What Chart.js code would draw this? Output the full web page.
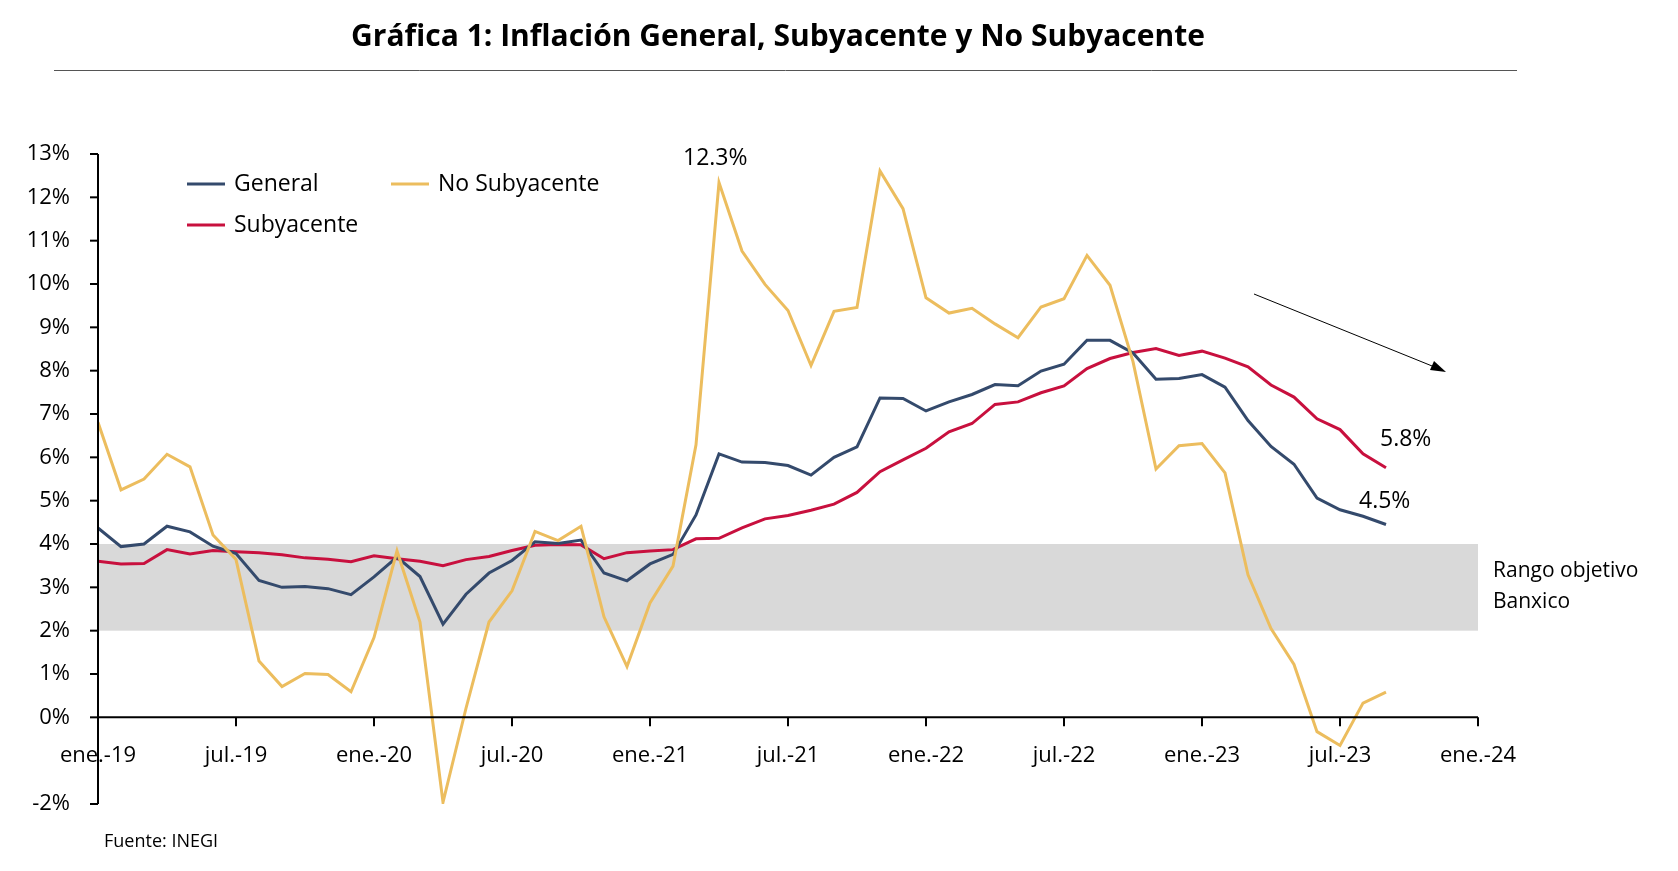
<!DOCTYPE html>
<html><head><meta charset="utf-8">
<script src="https://cdn.jsdelivr.net/npm/chart.js@4"></script>
<style>html,body{margin:0;padding:0;background:#fff}#w{width:1678px;height:871px;position:relative}</style>
</head><body><div id="w"><canvas id="c"></canvas></div>
<script>
const xTickLabels = ['ene.-19','jul.-19','ene.-20','jul.-20','ene.-21','jul.-21','ene.-22','jul.-22','ene.-23','jul.-23','ene.-24'];
const yTickValues = [13,12,11,10,9,8,7,6,5,4,3,2,1,0,-2];
const general = [4.37,3.94,4.00,4.41,4.28,3.95,3.78,3.16,3.00,3.02,2.97,2.83,
 3.24,3.70,3.25,2.15,2.84,3.33,3.62,4.05,4.01,4.09,3.33,3.15,
 3.54,3.76,4.67,6.08,5.89,5.88,5.81,5.59,6.00,6.24,7.37,7.36,
 7.07,7.28,7.45,7.68,7.65,7.99,8.15,8.70,8.70,8.41,7.80,7.82,
 7.91,7.62,6.85,6.25,5.84,5.06,4.79,4.64,4.45];
const subyacente = [3.60,3.54,3.55,3.87,3.77,3.85,3.82,3.80,3.75,3.68,3.65,3.59,
 3.73,3.66,3.60,3.50,3.64,3.71,3.85,3.97,3.99,3.98,3.66,3.80,
 3.84,3.87,4.12,4.13,4.37,4.58,4.66,4.78,4.92,5.19,5.67,5.94,
 6.21,6.59,6.78,7.22,7.28,7.49,7.65,8.05,8.28,8.42,8.51,8.35,
 8.45,8.29,8.09,7.67,7.39,6.89,6.64,6.08,5.76];
const noSubyacente = [6.81,5.25,5.50,6.07,5.78,4.21,3.64,1.30,0.71,1.01,0.99,0.59,
 1.84,3.84,2.20,-1.96,0.21,2.20,2.92,4.29,4.08,4.41,2.32,1.17,
 2.64,3.49,6.29,12.34,10.76,9.99,9.39,8.12,9.37,9.46,12.61,11.74,
 9.68,9.33,9.44,9.08,8.76,9.47,9.66,10.66,9.97,8.21,5.73,6.27,
 6.32,5.64,3.29,2.05,1.22,-0.33,-0.65,0.33,0.58];
const bandLow = 2, bandHigh = 4;
const pts = a => a.map((v,i)=>({x:i,y:v}));
const FONT = '"Open Sans", sans-serif';
const C_GEN='#344a6c', C_SUB='#c8103e', C_NS='#ecbd5e';

const deco = {
 id:'deco',
 beforeDatasetsDraw(ch){
  const {ctx,scales:{x,y}}=ch;
  ctx.save();
  ctx.fillStyle='#d9d9d9';
  const yt=y.getPixelForValue(bandHigh), yb=y.getPixelForValue(bandLow);
  ctx.fillRect(x.getPixelForValue(0),yt,x.getPixelForValue(60)-x.getPixelForValue(0),yb-yt);
  ctx.restore();
 },
 afterDatasetsDraw(ch){
  const {ctx,scales:{x,y}}=ch;
  ctx.save();
  ctx.strokeStyle='#000'; ctx.lineWidth=2;
  const x0=x.getPixelForValue(0), x1=x.getPixelForValue(60), y0=y.getPixelForValue(0);
  ctx.beginPath(); ctx.moveTo(x0,y.getPixelForValue(13)); ctx.lineTo(x0,y.getPixelForValue(-2)); ctx.stroke();
  ctx.beginPath(); ctx.moveTo(x0,y0); ctx.lineTo(x1,y0); ctx.stroke();
  ctx.fillStyle='#000'; ctx.font='22px '+FONT;
  ctx.textAlign='right'; ctx.textBaseline='middle';
  yTickValues.forEach(v=>{
    const py=y.getPixelForValue(v);
    ctx.fillText(v+'%',70,py);
    ctx.beginPath(); ctx.moveTo(x0-8,py); ctx.lineTo(x0,py); ctx.stroke();
  });
  ctx.textAlign='center'; ctx.textBaseline='middle';
  xTickLabels.forEach((l,i)=>{
    const px=x.getPixelForValue(i*6);
    ctx.beginPath(); ctx.moveTo(px,y0); ctx.lineTo(px,y0+9); ctx.stroke();
    ctx.fillText(l,px,y0+38);
  });
  // legend
  ctx.font='23px '+FONT; ctx.textAlign='left';
  const leg=[[C_GEN,'General',187,184],[C_NS,'No Subyacente',391,184],[C_SUB,'Subyacente',187,225]];
  leg.forEach(([c,t,lx,ly])=>{
    ctx.strokeStyle=c; ctx.lineWidth=3;
    ctx.beginPath(); ctx.moveTo(lx,ly); ctx.lineTo(lx+38,ly); ctx.stroke();
    ctx.fillText(t,lx+47,ly);
  });
  // annotations
  ctx.fillText('12.3%',683,158);
  ctx.fillText('5.8%',1380,439);
  ctx.fillText('4.5%',1359,501);
  ctx.font='21px '+FONT;
  ctx.fillText('Rango objetivo',1493,571);
  ctx.fillText('Banxico',1493,602);
  ctx.font='18px '+FONT;
  ctx.fillText('Fuente: INEGI',104,842);
  // arrow
  ctx.strokeStyle='#000'; ctx.lineWidth=1;
  ctx.beginPath(); ctx.moveTo(1254,294); ctx.lineTo(1442,370); ctx.stroke();
  ctx.fillStyle='#000';
  ctx.beginPath(); ctx.moveTo(1446,372); ctx.lineTo(1430,370); ctx.lineTo(1434,361); ctx.closePath(); ctx.fill();
  // title
  ctx.font='bold 30px '+FONT; ctx.textAlign='center';
  ctx.fillText('Gráfica 1: Inflación General, Subyacente y No Subyacente',778,37);
  ctx.strokeStyle='#555'; ctx.lineWidth=1;
  ctx.beginPath(); ctx.moveTo(54,70.5); ctx.lineTo(1517,70.5); ctx.stroke();
  ctx.restore();
 }
};

new Chart(document.getElementById('c'),{
 type:'line',
 data:{datasets:[
  {label:'No Subyacente',data:pts(noSubyacente),borderColor:C_NS,borderWidth:3,pointRadius:0,tension:0},
  {label:'General',data:pts(general),borderColor:C_GEN,borderWidth:3,pointRadius:0,tension:0},
  {label:'Subyacente',data:pts(subyacente),borderColor:C_SUB,borderWidth:3,pointRadius:0,tension:0}
 ]},
 options:{
  responsive:true,maintainAspectRatio:false,animation:false,
  layout:{padding:{left:98,top:154,right:200,bottom:67}},
  plugins:{legend:{display:false},tooltip:{enabled:false}},
  scales:{
   x:{type:'linear',min:0,max:60,display:false},
   y:{min:-2,max:13,display:false}
  }
 },
 plugins:[deco]
});
</script></body></html>
